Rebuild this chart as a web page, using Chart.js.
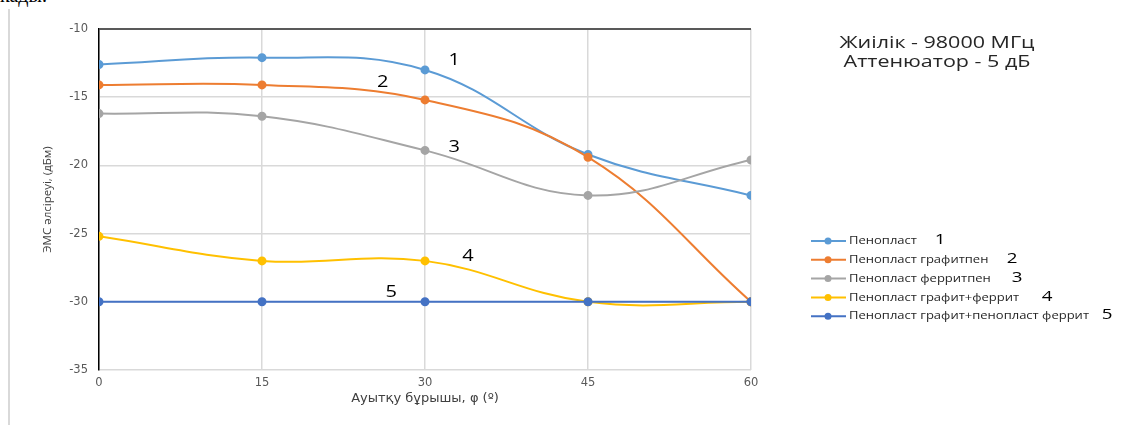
<!DOCTYPE html>
<html><head><meta charset="utf-8">
<script src="https://cdn.jsdelivr.net/npm/chart.js@4"></script>
<style>
html,body{margin:0;padding:0;background:#fff;}
#wrap{position:relative;width:1127px;height:425px;overflow:hidden;}
#top{position:absolute;left:0;top:-16px;font:20px "Liberation Serif",serif;color:#000;}
#border{position:absolute;left:8px;top:9px;width:2px;height:420px;background:#d9d9d9;}
canvas{position:absolute;left:0;top:0;}
</style></head><body>
<div id="wrap">
<div id="top">кады.</div>
<div id="border"></div>
<canvas id="c" width="1127" height="425"></canvas>
</div>
<script>
const angles = [0, 15, 30, 45, 60];
const seriesNames = ["Пенопласт", "Пенопласт графитпен", "Пенопласт ферритпен", "Пенопласт графит+феррит", "Пенопласт графит+пенопласт феррит"];
const seriesNums = ["1", "2", "3", "4", "5"];
const s1 = [-12.6, -12.1, -13.0, -19.2, -22.2];
const s2 = [-14.1, -14.1, -15.2, -19.4, -30.0];
const s3 = [-16.2, -16.4, -18.9, -22.2, -19.6];
const s4 = [-25.2, -27.0, -27.0, -30.0, -30.0];
const s5 = [-30.0, -30.0, -30.0, -30.0, -30.0];
const colors = ["#5B9BD5", "#ED7D31", "#A5A5A5", "#FFC000", "#4472C4"];
const labelPos = [[32.7, -12.27], [26.1, -13.9], [32.7, -18.65], [33.96, -26.7], [26.9, -29.3]];
const titleLines = ["Жиілік - 98000 МГц", "Аттенюатор - 5 дБ"];

const all = [s1, s2, s3, s4, s5];
const datasets = all.map((s, i) => ({
  label: seriesNames[i],
  data: s.map((v, j) => ({x: angles[j], y: v})),
  borderColor: colors[i],
  backgroundColor: colors[i],
  borderWidth: 2,
  pointRadius: 3.5,
  pointHoverRadius: 3.5,
  tension: 0.4,
  fill: false
}));
datasets.reverse();

const FONT = '"Open Sans", "Noto Sans", sans-serif';
const TFONT = '"DejaVu Sans", sans-serif';

function wideText(ctx, txt, x, y, sx, align) {
  ctx.save();
  ctx.translate(x, y);
  ctx.scale(sx, 1);
  ctx.textAlign = align;
  ctx.fillText(txt, 0, 0);
  ctx.restore();
}

const extra = {
  id: 'extra',
  afterDraw(chart) {
    const ctx = chart.ctx, xs = chart.scales.x, ys = chart.scales.y;
    ctx.save();
    ctx.fillStyle = '#000';
    ctx.textBaseline = 'middle';
    ctx.font = '16px ' + FONT;
    labelPos.forEach((p, i) => {
      wideText(ctx, seriesNums[i], xs.getPixelForValue(p[0]), ys.getPixelForValue(p[1]), 1.25, 'center');
    });
    // title
    ctx.font = '16px ' + FONT;
    ctx.fillStyle = '#262626';
    const tsx = 195 / ctx.measureText(titleLines[0]).width;
    wideText(ctx, titleLines[0], 937, 43, tsx, 'center');
    wideText(ctx, titleLines[1], 937, 62, tsx, 'center');
    // legend
    const y0 = 241, dy = 18.8;
    const numX = [940, 1012, 1017, 1047, 1107];
    ctx.font = '11px ' + FONT;
    const lsx = 240 / ctx.measureText(seriesNames[4]).width;
    seriesNames.forEach((n, i) => {
      const y = y0 + i * dy;
      ctx.strokeStyle = colors[i];
      ctx.lineWidth = 2;
      ctx.beginPath(); ctx.moveTo(811, y); ctx.lineTo(846, y); ctx.stroke();
      ctx.fillStyle = colors[i];
      ctx.beginPath(); ctx.arc(828, y, 3.5, 0, Math.PI * 2); ctx.fill();
      ctx.fillStyle = '#262626';
      ctx.font = '11px ' + FONT;
      wideText(ctx, n, 849, y, lsx, 'left');
      ctx.font = '15px ' + FONT;
      ctx.fillStyle = '#000';
      wideText(ctx, seriesNums[i], numX[i], y - 1, 1.25, 'center');
    });
    ctx.restore();
  }
};

new Chart(document.getElementById('c'), {
  type: 'line',
  data: {datasets},
  options: {
    responsive: false,
    animation: false,
    events: [],
    layout: {padding: {left: 37, right: 376, top: 29, bottom: 15}},
    plugins: {legend: {display: false}, tooltip: {enabled: false}, title: {display: false}},
    scales: {
      x: {
        type: 'linear', min: 0, max: 60,
        afterFit(s) { s.height = 40; },
        ticks: {stepSize: 15, padding: 6, color: '#595959', font: {family: TFONT, size: 11.5}},
        grid: {color: '#d9d9d9', lineWidth: 1.5, drawTicks: false},
        border: {display: false},
        title: {display: true, text: 'Ауытқу бұрышы, φ (º)', color: '#404040', font: {family: TFONT, size: 13}, padding: {top: 0, bottom: 4}}
      },
      y: {
        min: -35, max: -10,
        afterFit(s) { s.width = 62; },
        ticks: {stepSize: 5, padding: 11, color: '#595959', font: {family: TFONT, size: 11.5}},
        grid: {
          color: ctx => (ctx.tick && ctx.tick.value === -10) ? '#595959' : '#d9d9d9',
          lineWidth: ctx => (ctx.tick && ctx.tick.value === -10) ? 2 : 1.5,
          drawTicks: false
        },
        border: {display: true, color: '#000', width: 1.5},
        title: {display: true, text: 'ЭМС әлсіреуі, (дБм)', color: '#404040', font: {family: FONT, size: 11.5}, padding: {top: 4, bottom: 4}}
      }
    }
  },
  plugins: [extra]
});
</script>
</body></html>
